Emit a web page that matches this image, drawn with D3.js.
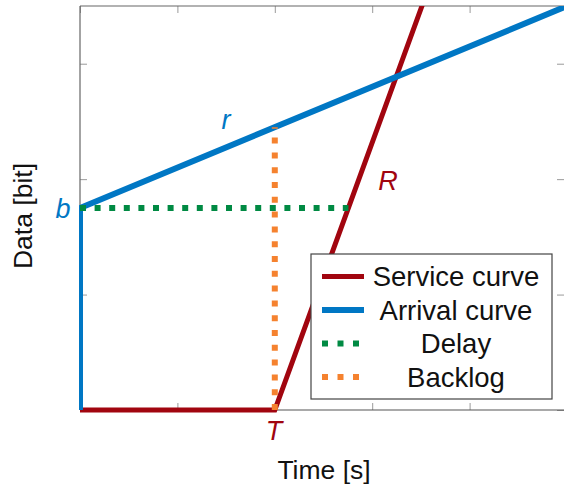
<!DOCTYPE html>
<html><head><meta charset="utf-8">
<script src="https://cdn.jsdelivr.net/npm/d3@7/dist/d3.min.js"></script>
<style>body{margin:0;background:#fff}svg{display:block}text{font-family:"Liberation Sans",Arial,Helvetica,sans-serif}</style>
</head><body>
<script>
// ---- data ----
const xTicks = [0, 1, 2, 3, 4, 5];
const yTicks = [0, 1, 2, 3];
const b = 1.75, r = 0.35, T = 2, R = 2.316;
const arrivalCurve = [[0, 0], [0, 1.75], [5, 3.5]];
const serviceCurve = [[0, 0], [2, 0], [3.511, 3.5], [4, 4.63]];
const delayLine = [[0, 1.75], [2.756, 1.75]];
const backlogLine = [[2, 0], [2, 2.45]];
const legendItems = ["Service curve", "Arrival curve", "Delay", "Backlog"];

const W = 564, H = 485;
const colors = {service: "#a1050f", arrival: "#0077c4", delay: "#008a43", backlog: "#f5822f"};

const x = d3.scaleLinear().domain([0, 5]).range([80, 567]);
const y = d3.scaleLinear().domain([0, 3.5]).range([410, 6]);

const svg = d3.select("body").append("svg").attr("width", W).attr("height", H);

svg.append("defs").append("clipPath").attr("id", "clip")
  .append("rect").attr("x", 79).attr("y", 6).attr("width", 500).attr("height", 412);

// ticks (inward, on all four sides)
const tickLen = 7, tickColor = "#9a9a9a";
const g = svg.append("g");
g.append("g").attr("transform", `translate(0,${y(0)})`)
  .call(d3.axisBottom(x).tickValues(xTicks).tickSize(-tickLen).tickFormat(""))
  .call(s => { s.select(".domain").remove(); s.selectAll("line").attr("stroke", tickColor); });
g.append("g").attr("transform", `translate(0,${y(3.5)})`)
  .call(d3.axisTop(x).tickValues(xTicks).tickSize(-tickLen).tickFormat(""))
  .call(s => { s.select(".domain").remove(); s.selectAll("line").attr("stroke", tickColor); });
g.append("g").attr("transform", `translate(${x(0)},0)`)
  .call(d3.axisLeft(y).tickValues(yTicks).tickSize(-tickLen).tickFormat(""))
  .call(s => { s.select(".domain").remove(); s.selectAll("line").attr("stroke", tickColor); });
g.append("g").attr("transform", `translate(${x(5) - 3},0)`)
  .call(d3.axisRight(y).tickValues(yTicks).tickSize(-tickLen).tickFormat(""))
  .call(s => { s.select(".domain").remove(); s.selectAll("line").attr("stroke", tickColor); });

// frame
svg.append("line").attr("x1", x(0)).attr("x2", W).attr("y1", y(3.5)).attr("y2", y(3.5)).attr("stroke", "#666").attr("stroke-width", 1.2);
svg.append("line").attr("x1", x(0)).attr("x2", x(0)).attr("y1", y(3.5)).attr("y2", y(0)).attr("stroke", "#666").attr("stroke-width", 1.2);
svg.append("line").attr("x1", x(0)).attr("x2", W).attr("y1", y(0)).attr("y2", y(0)).attr("stroke", "#555").attr("stroke-width", 1.2);

const line = d3.line().x(d => x(d[0])).y(d => y(d[1]));
const plot = svg.append("g").attr("clip-path", "url(#clip)");
plot.append("path").attr("d", line(serviceCurve)).attr("fill", "none")
  .attr("stroke", colors.service).attr("stroke-width", 5);
plot.append("path").attr("d", line(arrivalCurve)).attr("fill", "none")
  .attr("stroke", colors.arrival).attr("stroke-width", 6);
plot.append("path").attr("d", line(delayLine)).attr("fill", "none")
  .attr("stroke", colors.delay).attr("stroke-width", 6).attr("stroke-dasharray", "6,8.6");
plot.append("path").attr("d", line(backlogLine)).attr("fill", "none")
  .attr("stroke", colors.backlog).attr("stroke-width", 6).attr("stroke-dasharray", "6,8.8");

// annotations
const ann = (t, xx, yy, c) => svg.append("text").attr("x", xx).attr("y", yy).attr("text-anchor", "middle")
  .attr("font-size", 27).attr("font-style", "italic").attr("fill", c).text(t);
ann("r", 226, 129, colors.arrival);
ann("R", 388, 190, colors.service);
ann("b", 63, 218, colors.arrival);
ann("T", 274, 440, colors.service);

// axis labels
svg.append("text").attr("x", 324).attr("y", 479).attr("text-anchor", "middle").attr("font-size", 26.5).attr("fill", "#111").text("Time [s]");
svg.append("text").attr("transform", "translate(32,216) rotate(-90)").attr("text-anchor", "middle").attr("font-size", 26.5).attr("fill", "#111").text("Data [bit]");

// legend
const lg = svg.append("g");
lg.append("rect").attr("x", 311).attr("y", 254).attr("width", 241).attr("height", 145)
  .attr("fill", "#fff").attr("stroke", "#444").attr("stroke-width", 1.2);
const legendColors = [colors.service, colors.arrival, colors.delay, colors.backlog];
const legendDash = [null, null, "6,9.5", "6,9.5"];
const legendY = d3.scalePoint().domain(legendItems).range([276.5, 377]);
legendItems.forEach((name, i) => {
  const yy = legendY(name);
  lg.append("line").attr("x1", 322).attr("x2", 364).attr("y1", yy).attr("y2", yy)
    .attr("stroke", legendColors[i]).attr("stroke-width", i === 0 ? 5 : 6)
    .attr("stroke-dasharray", legendDash[i]);
  lg.append("text").attr("x", 456).attr("y", yy + 9.5).attr("text-anchor", "middle")
    .attr("font-size", 27.5).attr("fill", "#111").text(name);
});
</script>
</body></html>
